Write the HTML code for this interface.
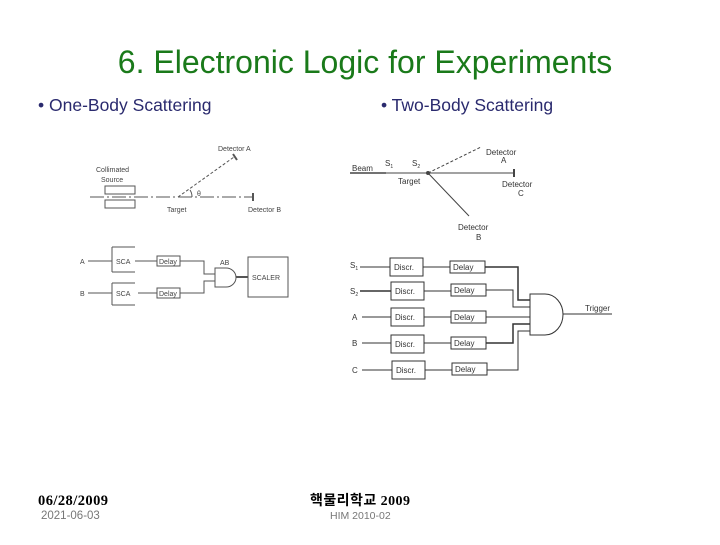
<!DOCTYPE html>
<html><head><meta charset="utf-8"><style>
html,body{margin:0;padding:0;background:#fff;}
body{width:720px;height:540px;overflow:hidden;position:relative;}
</style></head><body>
<svg width="720" height="540" viewBox="0 0 720 540" xmlns="http://www.w3.org/2000/svg" font-family="Liberation Sans, sans-serif">
<text x="365" y="73" text-anchor="middle" font-size="32" fill="#1a7a1a">6. Electronic Logic for Experiments</text>
<text x="38" y="111" font-size="17.5" fill="#2a2a6e">• One-Body Scattering</text>
<text x="381" y="111" font-size="17.5" fill="#2a2a6e">• Two-Body Scattering</text>

<!-- LEFT DIAGRAM -->
<g stroke="#555" fill="none" stroke-width="1">
<line x1="90" y1="197" x2="254" y2="197" stroke-dasharray="14,3,2,3"/>
<line x1="178" y1="197" x2="234" y2="157" stroke-dasharray="3,2"/>
<rect x="105" y="186" width="30" height="8"/>
<rect x="105" y="200" width="30" height="8"/>
<line x1="253" y1="193" x2="253" y2="201" stroke-width="2"/>
<line x1="233" y1="154" x2="237" y2="160" stroke-width="2"/>
<path d="M190 190 A12 12 0 0 1 192 197"/>
<line x1="112" y1="247" x2="135" y2="247"/><line x1="112" y1="272" x2="135" y2="272"/><line x1="112" y1="247" x2="112" y2="272"/>
<line x1="112" y1="283" x2="135" y2="283"/><line x1="112" y1="305" x2="135" y2="305"/><line x1="112" y1="283" x2="112" y2="305"/>
<line x1="88" y1="261" x2="112" y2="261"/><line x1="88" y1="293" x2="112" y2="293"/>
<line x1="135" y1="261" x2="157" y2="261"/><line x1="138" y1="293" x2="157" y2="293"/>
<rect x="157" y="256" width="23" height="10"/>
<rect x="157" y="288" width="23" height="10"/>
<polyline points="180,261 204,261 204,274 215,274"/>
<polyline points="180,293 204,293 204,281 215,281"/>
<path d="M215 268 L226 268 A10 9.5 0 0 1 226 287 L215 287 Z"/>
<line x1="236" y1="277" x2="248" y2="277" stroke-width="2"/>
<rect x="248" y="257" width="40" height="40"/>
</g>
<g font-size="7" fill="#444">
<text x="218" y="151">Detector A</text>
<text x="96" y="172">Collimated</text>
<text x="101" y="182">Source</text>
<text x="197" y="196">θ</text>
<text x="167" y="212">Target</text>
<text x="248" y="212">Detector B</text>
<text x="80" y="264">A</text><text x="80" y="296">B</text>
<text x="116" y="264">SCA</text><text x="116" y="296">SCA</text>
<text x="159" y="264">Delay</text><text x="159" y="296">Delay</text>
<text x="220" y="265">AB</text>
<text x="252" y="280">SCALER</text>
</g>

<!-- RIGHT DIAGRAM -->
<g stroke="#444" fill="none" stroke-width="1">
<line x1="350" y1="173" x2="386" y2="173" stroke-width="1.5"/>
<line x1="386" y1="173" x2="514" y2="173"/>
<line x1="428" y1="173" x2="481" y2="147" stroke-dasharray="3,2"/>
<line x1="428" y1="173" x2="469" y2="216"/>
<circle cx="428" cy="173" r="1.5" fill="#444"/>
<line x1="514" y1="169" x2="514" y2="177" stroke-width="2"/>
</g>
<g font-size="8" fill="#333">
<text x="352" y="171">Beam</text>
<text x="385" y="166">S<tspan font-size="5" dy="2">1</tspan></text>
<text x="412" y="166">S<tspan font-size="5" dy="2">2</tspan></text>
<text x="398" y="184">Target</text>
<text x="486" y="155">Detector</text><text x="501" y="163">A</text>
<text x="502" y="187">Detector</text><text x="518" y="196">C</text>
<text x="458" y="230">Detector</text><text x="476" y="240">B</text>
<text x="585" y="311">Trigger</text>
</g>
<g stroke="#333" fill="none" stroke-width="1">
<rect x="390" y="258" width="33" height="18"/>
<rect x="391" y="282" width="33" height="18"/>
<rect x="391" y="308" width="33" height="18"/>
<rect x="391" y="335" width="33" height="18"/>
<rect x="392" y="361" width="33" height="18"/>
<rect x="450" y="261" width="35" height="12"/>
<rect x="451" y="284" width="35" height="12"/>
<rect x="451" y="311" width="35" height="12"/>
<rect x="451" y="337" width="35" height="12"/>
<rect x="452" y="363" width="35" height="12"/>
<line x1="360" y1="267" x2="390" y2="267"/>
<line x1="360" y1="291" x2="391" y2="291" stroke-width="1.5"/>
<line x1="362" y1="317" x2="391" y2="317"/>
<line x1="362" y1="343" x2="391" y2="343"/>
<line x1="362" y1="370" x2="392" y2="370"/>
<line x1="423" y1="267" x2="450" y2="267"/>
<line x1="424" y1="291" x2="451" y2="291"/>
<line x1="424" y1="317" x2="451" y2="317"/>
<line x1="424" y1="343" x2="451" y2="343"/>
<line x1="425" y1="370" x2="452" y2="370"/>
<polyline points="485,267 518,267 518,300 530,300" stroke-width="1.5"/>
<polyline points="486,290 513,290 513,307 530,307"/>
<line x1="486" y1="317" x2="530" y2="317"/>
<polyline points="486,343 513,343 513,324 530,324" stroke-width="1.5"/>
<polyline points="487,370 518,370 518,331 530,331"/>
<path d="M530 294 L545 294 A18 20.5 0 0 1 545 335 L530 335 Z"/>
<line x1="563" y1="314" x2="612" y2="314"/>
</g>
<g font-size="8" fill="#333">
<text x="350" y="268">S<tspan font-size="5" dy="2">1</tspan></text>
<text x="350" y="294">S<tspan font-size="5" dy="2">2</tspan></text>
<text x="352" y="320">A</text><text x="352" y="346">B</text><text x="352" y="373">C</text>
<text x="394" y="270">Discr.</text><text x="395" y="294">Discr.</text><text x="395" y="320">Discr.</text><text x="395" y="347">Discr.</text><text x="396" y="373">Discr.</text>
<text x="453" y="270">Delay</text><text x="454" y="293">Delay</text><text x="454" y="320">Delay</text><text x="454" y="346">Delay</text><text x="455" y="372">Delay</text>
</g>

<!-- FOOTER -->
<text x="38" y="505" font-size="14.5" font-weight="bold" font-family="Liberation Serif, serif" fill="#000" textLength="70">06/28/2009</text>
<text x="41" y="519" font-size="11.5" fill="#777">2021-06-03</text>
<text x="310" y="505" font-size="14" font-weight="bold" font-family="Liberation Serif, Noto Sans CJK KR, serif" fill="#000" textLength="100">핵물리학교 2009</text>
<text x="330" y="519" font-size="10.5" fill="#777">HIM 2010-02</text>
</svg>
</body></html>
